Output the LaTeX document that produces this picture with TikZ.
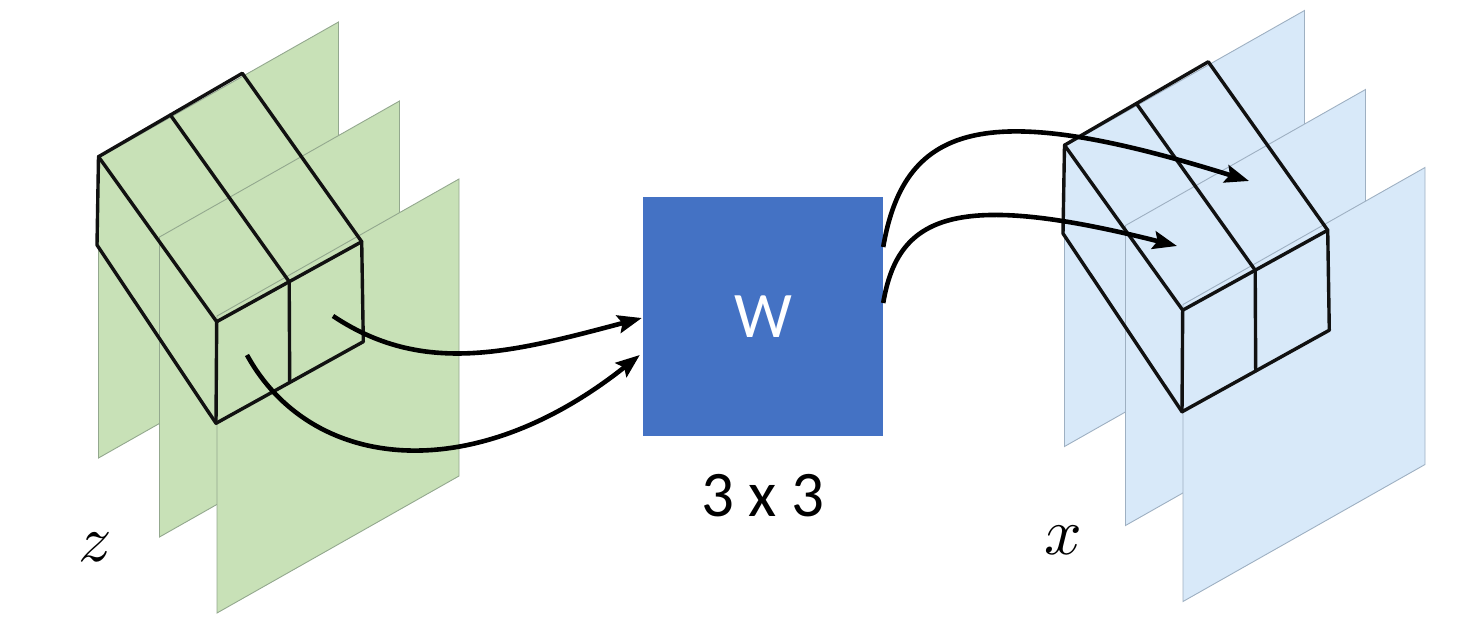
\documentclass[tikz,border=0pt]{standalone}
\usepackage{fontspec}
\setmainfont{Carlito}
\usetikzlibrary{arrows.meta}
\definecolor{gfill}{HTML}{C8E1B7}
\definecolor{gline}{HTML}{93A88E}
\definecolor{bfill}{HTML}{D8E9F9}
\definecolor{bline}{HTML}{9EB0C2}
\definecolor{wblue}{HTML}{4472C4}
\definecolor{edgecol}{HTML}{111111}
\tikzset{
  plane/.style={line width=0.9pt},
  edge/.style={line width=3.4pt, line join=round, line cap=round, draw=edgecol},
  conn/.style={line width=4.6pt, draw=black, -{Stealth[length=24pt,width=18pt,inset=4pt]}},
  wbox/.style={fill=wblue, draw=none, minimum width=240pt, minimum height=239pt, inner sep=0pt,
               text=white, font=\fontsize{65}{65}\selectfont},
  sizelab/.style={inner sep=0pt, font=\fontsize{65}{65}\selectfont},
  varlab/.style={inner sep=0pt, scale=6.6}
}
\newcommand\drawstack[2]{%
  \filldraw[plane, fill=#1, draw=#2] (98.5,158) -- (338.5,22) -- (338.5,322) -- (98.5,458) -- cycle;
  \filldraw[plane, fill=#1, draw=#2] (159.5,237) -- (399.5,101) -- (399.5,401) -- (159.5,537) -- cycle;
  \filldraw[plane, fill=#1, draw=#2] (217,316) -- (459,179) -- (459,476) -- (217,613) -- cycle;
  \draw[edge] (97,245) -- (98.5,156.7) -- (170.4,115) -- (242.3,73.3) -- (361.7,241.7)
              -- (363.3,341.7) -- (289.7,382.5) -- (216,423.3) -- cycle;
  \draw[edge] (98.5,156.7) -- (216.7,321.7) -- (289.2,281.7) -- (361.7,241.7);
  \draw[edge] (216.7,321.7) -- (216,423.3);
  \draw[edge] (170.4,115) -- (289.2,281.7) -- (289.7,382.5);
}
\begin{document}
\begin{tikzpicture}[x=1pt,y=-1pt]
\useasboundingbox (0,0) rectangle (1476,634);
% left stack (z)
\drawstack{gfill}{gline}
% right stack (x)
\begin{scope}[shift={(966,-11.5)}]
  \drawstack{bfill}{bline}
\end{scope}
% weight block
\node[wbox] (W) at (763,316.5) {W};
\node[sizelab] (lab) at (763,496) {3 x 3};
\node[varlab] (zl) at (95.7,547.5) {$z$};
\node[varlab] (xl) at (1063.7,540.5) {$x$};
% connectors
\coordinate (l1s) at (333,316);
\coordinate (l2s) at (247,355);
\coordinate (r1e) at (1249,181);
\coordinate (r2e) at (1177,246);
\draw[conn] (l1s) .. controls (423,376) and (510,353) .. ([xshift=-1pt,yshift=-1.5pt]W.west);
\draw[conn] (l2s) .. controls (310,470) and (470,490) .. ([xshift=-3pt,yshift=-38.5pt]W.west);
\draw[conn] ([yshift=69.5pt]W.east) .. controls (905,120) and (990,100) .. (r1e);
\draw[conn] ([yshift=13.5pt]W.east) .. controls (898,215) and (955,190) .. (r2e);
\end{tikzpicture}
\end{document}
